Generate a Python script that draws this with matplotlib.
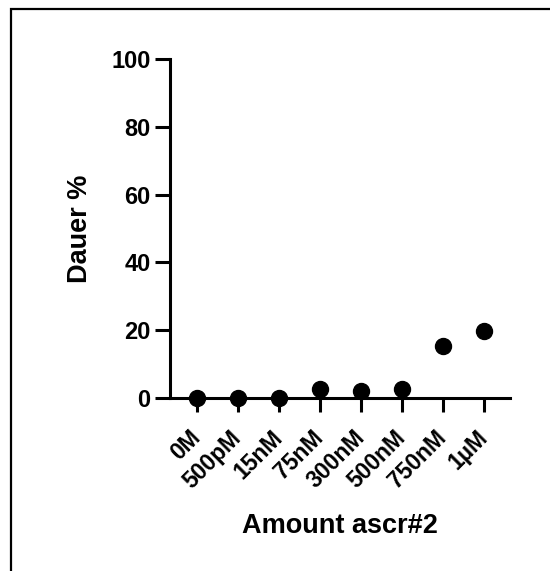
import matplotlib
matplotlib.use("Agg")
import matplotlib.pyplot as plt
import matplotlib.transforms as mtransforms
from matplotlib.patches import Rectangle

categories = ["0M", "500pM", "15nM", "75nM", "300nM", "500nM", "750nM", "1µM"]
dauer_pct = [0.0, 0.0, 0.0, 2.6, 2.2, 2.6, 15.4, 19.8]
yticks = [0, 20, 40, 60, 80, 100]

plt.rcParams['font.family'] = ['Liberation Sans', 'DejaVu Sans']
plt.rcParams['font.weight'] = 'bold'

W, H = 550, 571
fig = plt.figure(figsize=(W / 100, H / 100), dpi=100)
fig.patch.set_facecolor("white")

# outer frame
fig.patches.append(Rectangle((11 / W, -0.05), 1.1, 1 - 9 / H + 0.05,
                             transform=fig.transFigure, fill=False,
                             edgecolor="black", linewidth=1.6))

ax = fig.add_axes([170 / W, 1 - 398 / H, 340 / W, 339 / H])
x = list(range(len(categories)))
ax.plot(x, dauer_pct, linestyle="none", marker="o", markersize=11.5,
        color="black", clip_on=False, zorder=5)

ax.set_xlim(-0.66, 7.64)
ax.set_ylim(0, 100)
ax.set_yticks(yticks)
ax.set_xticks(x)
ax.set_xticklabels(categories, rotation=45, ha="right", va="center",
                   rotation_mode="anchor", fontsize=16.5, fontweight="bold")
offset = mtransforms.ScaledTranslation(-9 / 100, -3 / 100, fig.dpi_scale_trans)
for lab in ax.get_xticklabels():
    lab.set_transform(lab.get_transform() + offset)
ax.tick_params(axis="y", labelsize=17, length=11, width=2.2, pad=3)
ax.tick_params(axis="x", length=10, width=2.2, pad=16)
for lab in ax.get_yticklabels():
    lab.set_fontweight("bold")

for s in ["top", "right"]:
    ax.spines[s].set_visible(False)
for s in ["left", "bottom"]:
    ax.spines[s].set_linewidth(2.2)

ax.set_ylabel("Dauer %", fontsize=19.5, fontweight="bold", labelpad=13)
ax.set_xlabel("Amount ascr#2", fontsize=19.5, fontweight="bold")
ax.xaxis.set_label_coords(0.5, (398 - 513) / 339)

fig.savefig("out.png", dpi=100, facecolor="white")
